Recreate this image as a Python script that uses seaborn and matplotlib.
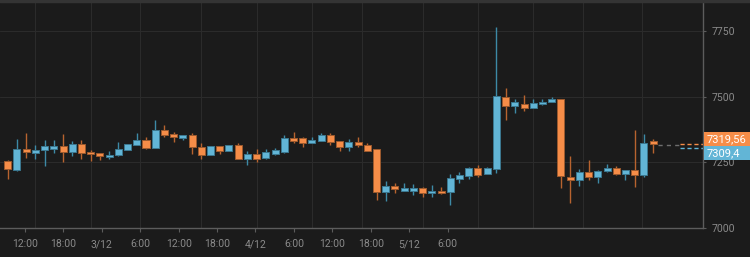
import matplotlib
matplotlib.use("Agg")
import matplotlib.pyplot as plt
from matplotlib.patches import Rectangle
from matplotlib.lines import Line2D
import numpy as np
import pandas as pd
import seaborn as sns

# ---------------- data ----------------
opens = [7256, 7221, 7301, 7287, 7298, 7302, 7312, 7290, 7320, 7291,
         7284, 7271, 7277, 7298, 7316, 7336, 7304, 7374, 7358, 7343,
         7354, 7308, 7279, 7311, 7293, 7316, 7262, 7281, 7265, 7283,
         7289, 7344, 7344, 7325, 7331, 7355, 7332, 7307, 7327, 7315,
         7301, 7138, 7161, 7142, 7142, 7154, 7132, 7142, 7136, 7188,
         7199, 7227, 7206, 7223, 7498, 7466, 7472, 7456, 7471, 7481,
         7490, 7195, 7182, 7213, 7195, 7217, 7227, 7205, 7221, 7202,
         7330]
highs = [7258, 7338, 7363, 7317, 7334, 7334, 7359, 7330, 7335, 7298,
         7287, 7292, 7326, 7321, 7363, 7348, 7411, 7391, 7365, 7355,
         7363, 7324, 7313, 7312, 7316, 7324, 7292, 7300, 7300, 7303,
         7353, 7366, 7345, 7345, 7363, 7361, 7333, 7338, 7345, 7324,
         7302, 7178, 7173, 7170, 7168, 7155, 7165, 7155, 7204, 7214,
         7233, 7239, 7233, 7766, 7532, 7491, 7506, 7492, 7490, 7499,
         7491, 7275, 7224, 7258, 7221, 7243, 7235, 7222, 7373, 7357,
         7338]
lows = [7186, 7217, 7268, 7263, 7236, 7287, 7252, 7275, 7264, 7256,
        7260, 7264, 7276, 7297, 7315, 7301, 7303, 7345, 7329, 7334,
        7282, 7264, 7278, 7282, 7292, 7261, 7240, 7251, 7264, 7279,
        7287, 7322, 7310, 7324, 7330, 7317, 7293, 7294, 7307, 7292,
        7107, 7103, 7134, 7141, 7127, 7119, 7119, 7131, 7089, 7173,
        7188, 7195, 7205, 7210, 7412, 7437, 7447, 7455, 7470, 7480,
        7152, 7096, 7160, 7184, 7173, 7212, 7201, 7182, 7157, 7195,
        7287]
closes = [7223, 7301, 7289, 7296, 7311, 7311, 7290, 7320, 7287, 7281,
          7274, 7279, 7301, 7320, 7336, 7303, 7374, 7353, 7347, 7354,
          7308, 7279, 7311, 7293, 7315, 7262, 7281, 7264, 7288, 7296,
          7344, 7331, 7324, 7336, 7354, 7327, 7307, 7327, 7315, 7293,
          7138, 7161, 7150, 7154, 7154, 7132, 7142, 7132, 7192, 7203,
          7227, 7202, 7227, 7501, 7466, 7480, 7456, 7476, 7481, 7491,
          7199, 7182, 7213, 7195, 7217, 7227, 7206, 7221, 7203, 7324,
          7319.56]

tick_labels = ["12:00", "18:00", "3/12", "6:00", "12:00", "18:00",
               "4/12", "6:00", "12:00", "18:00", "5/12", "6:00"]
tick_hours = [12, 18, 24, 30, 36, 42, 48, 54, 60, 66, 72, 78]
first_candle_hour = 9.3
candle_step_hours = 1.44

y_ticks = [7000, 7250, 7500, 7750]
y_tick_labels = ["7000", "7250", "7500", "7750"]

last_price_orange = 7319.56
last_price_blue = 7309.4
last_label_orange = "7319,56"
last_label_blue = "7309,4"

# ---------------- style ----------------
BG = "#1b1b1b"
ORANGE = "#f68d48"
ORANGE_EDGE = "#9c5a2e"
ORANGE_WICK = "#b8632f"
BLUE = "#62b5d6"
BLUE_EDGE = "#3b7890"
BLUE_WICK = "#3d8aa6"
GRID = "#2b2b2b"
SPINE = "#5c5c5c"
TXT = "#8a8a8a"

sns.set_theme(style="dark", rc={
    "axes.facecolor": BG,
    "figure.facecolor": BG,
    "axes.edgecolor": SPINE,
    "grid.color": GRID,
    "xtick.color": SPINE,
    "ytick.color": SPINE,
})
plt.rcParams['font.family'] = ['Liberation Sans Narrow', 'Roboto', 'DejaVu Sans']

W, H = 750, 257
fig = plt.figure(figsize=(W / 100, H / 100), dpi=100, facecolor=BG)
ax = fig.add_axes([0 / W, (H - 228) / H, 703 / W, 227 / H])
ax.set_facecolor(BG)

df = pd.DataFrame({"open": opens, "high": highs, "low": lows, "close": closes})
df["idx"] = np.arange(len(df))
df["up"] = df["close"] >= df["open"]

px_per_unit = 197 / 750.0
y_top = 7000 + 227 / px_per_unit
ax.set_ylim(7000, y_top)
ax.set_xlim(-0.835, 75.41)

# grid
for gx in [3, 9, 14.4, 21, 27, 33, 38.4, 45, 51, 57, 62.4, 68.8]:
    ax.axvline(gx, color=GRID, lw=0.8, zorder=0)
for gy in y_ticks[1:]:
    ax.axhline(gy, color=GRID, lw=0.8, zorder=0)

# wicks
wick_cols = np.where(df["up"], BLUE_WICK, ORANGE_WICK)
ax.vlines(df["idx"], df["low"], df["high"], colors=wick_cols, lw=1.0, zorder=2)

# bodies
body_bottom = np.minimum(df["open"], df["close"])
body_h = np.abs(df["close"] - df["open"])
ax.bar(df["idx"], body_h, bottom=body_bottom, width=0.76,
       color=np.where(df["up"], BLUE, ORANGE),
       edgecolor=np.where(df["up"], BLUE_EDGE, ORANGE_EDGE),
       linewidth=0.7, zorder=3)

# last price dashed lines
last_i = df["idx"].iloc[-1]
split_x = 72.9
ax.plot([last_i + 0.5, split_x], [closes[-1] - 4, closes[-1] - 4],
        ls=(0, (3, 3)), color="#6e6e6e", lw=1.0, zorder=2)
ax.plot([split_x, 75.41], [last_price_orange, last_price_orange],
        ls=(0, (3, 2)), color=ORANGE, lw=1.0, zorder=2)
ax.plot([split_x, 75.41], [last_price_blue - 4, last_price_blue - 4],
        ls=(0, (3, 2)), color=BLUE, lw=1.0, zorder=2)

# axes / ticks
ax.set_xticks([(h - first_candle_hour) / candle_step_hours for h in tick_hours])
ax.set_xticklabels(tick_labels)
ax.set_yticks(y_ticks)
ax.set_yticklabels(y_tick_labels)
ax.yaxis.tick_right()
ax.tick_params(axis="x", bottom=True, length=3, width=0.8, color=SPINE,
               labelcolor=TXT, labelsize=7.5, pad=5)
ax.tick_params(axis="y", right=True, left=False, length=2.5, width=0.8,
               color=SPINE, labelcolor=TXT, labelsize=7.5, pad=4)
ax.grid(False)
for side in ["left", "top"]:
    ax.spines[side].set_visible(False)
ax.spines["bottom"].set_color(SPINE)
ax.spines["right"].set_color(SPINE)
ax.spines["bottom"].set_linewidth(1.0)
ax.spines["right"].set_linewidth(1.0)

# top border
fig.add_artist(Line2D([0, 1], [1 - 1 / H, 1 - 1 / H], transform=fig.transFigure,
                      color="#343434", lw=2.5))

# last price labels
fig.canvas.draw()
yo = ax.transData.transform((0, last_price_orange))[1]
yb = ax.transData.transform((0, last_price_blue))[1]
mid = (yo + yb) / 2 - 0.8
x0 = 703.5
bw = 46
bh = 14
fig.add_artist(Rectangle((x0, mid), bw, bh, transform=None,
                         facecolor=ORANGE, edgecolor="none", zorder=5))
fig.add_artist(Rectangle((x0, mid - bh), bw, bh, transform=None,
                         facecolor=BLUE, edgecolor="none", zorder=5))
fig.text((x0 + 3) / W, (mid + bh / 2) / H, last_label_orange, color="white",
         fontsize=8, va="center", ha="left", zorder=6)
fig.text((x0 + 3) / W, (mid - bh / 2) / H, last_label_blue, color="white",
         fontsize=8, va="center", ha="left", zorder=6)

fig.savefig("out.png", dpi=100, facecolor=BG)
